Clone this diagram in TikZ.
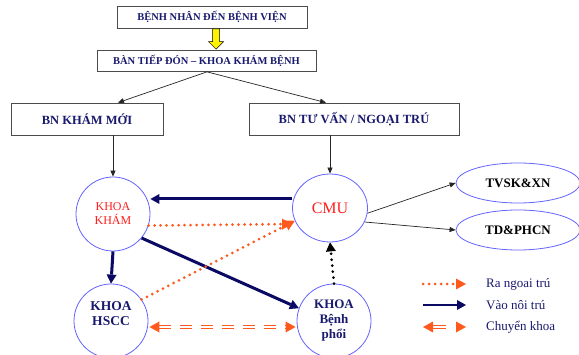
\documentclass[tikz,border=0pt]{standalone}
\usepackage{fontspec}
\setmainfont{Liberation Serif}
\usetikzlibrary{arrows.meta,shapes.geometric,calc}
\definecolor{navy}{RGB}{25,25,110}
\definecolor{arrnavy}{RGB}{10,10,100}
\definecolor{ora}{RGB}{255,90,30}
\definecolor{cblue}{RGB}{100,100,255}
\definecolor{tred}{RGB}{255,30,30}
\begin{document}
\begin{tikzpicture}[x=1pt,y=-1pt,
 box/.style={draw=black!70, line width=0.7pt, rectangle, inner sep=0pt, text=navy},
 circ/.style={draw=cblue, line width=0.8pt, circle, minimum size=74pt, inner sep=0pt, align=center},
 ell/.style={draw=cblue, line width=0.8pt, ellipse, minimum width=124pt, minimum height=40pt, inner sep=0pt, font=\bfseries\fontsize{13}{14}\selectfont},
 thinarr/.style={draw=black!85, line width=0.7pt, -{Triangle[length=6pt,width=5pt]}},
 inarrow/.style={draw=arrnavy, line width=3pt, -{Triangle[length=9pt,width=10pt,line width=0pt]}},
 outarrow/.style={draw=ora, line width=3pt, line cap=round, dash pattern=on 0pt off 6pt, -{Triangle[length=10pt,width=11pt,line width=0pt]}},
 dotarrow/.style={draw=black, line width=3pt, line cap=round, dash pattern=on 0pt off 6pt, -{Triangle[length=9pt,width=10pt,line width=0pt]}},
 dbl/.style={draw=ora, double=white, double distance=1.6pt, line width=1.1pt, dash pattern=on 12pt off 9pt},
 tip/.style={draw=ora, fill=ora, line width=0.1pt, -{Triangle[length=10pt,width=11pt,line width=0pt]}},
 legtext/.style={anchor=west, text=navy, font=\fontsize{13}{14}\selectfont, inner sep=0pt},
]
\useasboundingbox (0,0) rectangle (579,355);
\fill[white] (0,0) rectangle (579,355);

% boxes
\node[box, minimum width=190pt, minimum height=22pt, font=\bfseries\fontsize{10.5}{12}\selectfont] (b1) at (212,17) {BỆNH NHÂN ĐẾN BỆNH VIỆN};
\node[box, minimum width=219pt, minimum height=21pt, font=\bfseries\fontsize{10.5}{12}\selectfont] (b2) at (206.5,60.5) {BÀN TIẾP ĐÓN – KHOA KHÁM BỆNH};
\node[box, minimum width=152pt, minimum height=32pt, font=\bfseries\fontsize{12.5}{14}\selectfont] (b3) at (87,119) {BN KHÁM MỚI};
\node[box, minimum width=210pt, minimum height=32pt, font=\bfseries\fontsize{12.5}{14}\selectfont] (b4) at (354,119) {BN TƯ VẤN / NGOẠI TRÚ};

% circles
\node[circ, text=tred, font=\fontsize{12}{14}\selectfont] (kk) at (113,214) {KHOA\\KHÁM};
\node[circ, minimum width=75pt, minimum height=68pt, ellipse, text=tred, font=\fontsize{16}{18}\selectfont] (cmu) at (330,208) {CMU};
\node[circ, text=navy, font=\bfseries\fontsize{13.5}{15}\selectfont] (hscc) at (111,321) {KHOA\\HSCC\\\mbox{}};
\node[circ, text=navy, font=\bfseries\fontsize{13}{15}\selectfont] (bp) at (334,321) {KHOA\\Bệnh\\phổi};
\node[ell] (tv) at (518,183) {TVSK\&XN};
\node[ell] (td) at (518,230) {TD\&PHCN};

% yellow block arrow
\coordinate (ya) at ($(b1.south)+(4,0.5)$);
\coordinate (yb) at (ya |- b2.north);
\draw[black, line width=0.5pt, fill=yellow]
  ($(ya)+(-3.5,0)$) -- ($(ya)+(3.5,0)$) -- ($(yb)+(3.5,-8)$) -- ($(yb)+(7.5,-8)$)
  -- ($(yb)+(0,-0.5)$) -- ($(yb)+(-7.5,-8)$) -- ($(yb)+(-3.5,-8)$) -- cycle;

% thin connectors
\coordinate (apex) at ($(b2.south)+(0.5,0.5)$);
\draw[thinarr] (apex) -- ($(b3.north)+(31,0)$);
\draw[thinarr] (apex) -- ($(b4.north)+(-28,0)$);
\draw[thinarr] (kk.north |- b3.south) -- (kk.north);
\draw[thinarr] (cmu.north |- b4.south) -- (cmu.north);
\draw[thinarr] (cmu.-8) -- (tv.west);
\draw[thinarr] (cmu.-22) -- (td.west);

% navy arrows (vao noi tru)
\draw[inarrow] (cmu.west |- 0,199) -- (kk.east |- 0,199);
\draw[inarrow] (kk.south) -- (hscc.north);
\draw[inarrow] (kk.-40) -- (bp.160);

% orange dotted (ra ngoai tru)
\draw[outarrow] (kk.-18) -- (cmu.west |- 0,224);
\draw[outarrow] (hscc.35) -- (cmu.-160);

% black dotted
\draw[dotarrow] (bp.north) -- (cmu.south);

% double dashed (chuyen khoa)
\coordinate (h1) at ($(hscc.east)+(1,6)$);
\coordinate (p1) at ($(bp.west)+(-1,6)$);
\draw[dbl] ($(h1)!10pt!(p1)$) -- ($(p1)!10pt!(h1)$);
\draw[tip] ($(h1)!10pt!(p1)$) -- (h1);
\draw[tip] ($(p1)!10pt!(h1)$) -- (p1);

% legend
\coordinate (l1a) at (423,284); \coordinate (l1b) at (466,284);
\coordinate (l2a) at (423,305); \coordinate (l2b) at (466,305);
\coordinate (l3a) at (423,327); \coordinate (l3b) at (466,327);
\draw[outarrow] (l1a) -- (l1b);
\draw[inarrow, line width=2.6pt] (l2a) -- (l2b);
\draw[dbl, dash pattern=on 20pt off 0pt] ($(l3a)+(9,0)$) -- ($(l3a)+(23,0)$);
\draw[tip] ($(l3a)+(10,0)$) -- (l3a);
\draw[tip] ($(l3b)+(-10,0)$) -- (l3b);
\node[legtext] (t1) at (486,284) {Ra ngoai trú};
\node[legtext] (t2) at (486,305) {Vào nôi trú};
\node[legtext] (t3) at (486,327) {Chuyển khoa};
\end{tikzpicture}
\end{document}
